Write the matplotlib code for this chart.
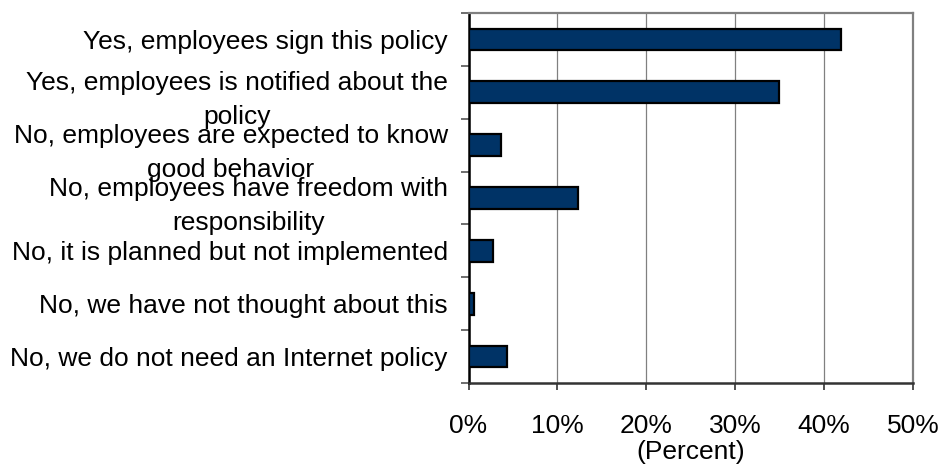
import matplotlib
matplotlib.use("Agg")
import matplotlib.pyplot as plt
import numpy as np
from matplotlib.ticker import FixedLocator, PercentFormatter

plt.rcParams['font.family'] = ['Liberation Sans', 'DejaVu Sans']

labels = [
    "Yes, employees sign this policy",
    "Yes, employees is notified about the\npolicy",
    "No, employees are expected to know\ngood behavior",
    "No, employees have freedom with\nresponsibility",
    "No, it is planned but not implemented",
    "No, we have not thought about this",
    "No, we do not need an Internet policy",
]
percent = [41.9, 34.9, 3.7, 12.3, 2.7, 0.6, 4.3]
xticks = [0, 10, 20, 30, 40, 50]

fig = plt.figure(figsize=(9.41, 4.70), dpi=100)
ax = fig.add_axes([0.4979, 0.1851, 0.4723, 0.7872])

y = np.arange(len(labels))
ax.barh(y, percent, height=0.41, color="#003366", edgecolor="black", linewidth=1.6, zorder=3)

ax.set_xlim(0, 50)
ax.set_ylim(len(labels) - 0.5, -0.5)
ax.set_xticks(xticks)
ax.xaxis.set_major_formatter(PercentFormatter(decimals=0))
ax.grid(axis="x", color="#808080", linewidth=0.9, zorder=0)

ax.set_yticks(y)
ax.set_yticklabels(labels, fontsize=19, ha="right", multialignment="center", linespacing=1.55)
ax.yaxis.set_minor_locator(FixedLocator(np.arange(-0.5, len(labels), 1.0)))
ax.tick_params(axis="y", which="major", length=0, pad=15)
ax.tick_params(axis="y", which="minor", length=6, width=1.2, color="#555555")
ax.tick_params(axis="x", length=5, width=1.2, color="#333333", labelsize=19, pad=17)

ax.set_xlabel("(Percent)", fontsize=19, labelpad=2)

ax.spines["left"].set_color("black")
ax.spines["left"].set_linewidth(1.8)
ax.spines["bottom"].set_color("#333333")
ax.spines["bottom"].set_linewidth(1.8)
for s in ("top", "right"):
    ax.spines[s].set_color("#808080")
    ax.spines[s].set_linewidth(1.6)

fig.savefig("out.png", dpi=100)
